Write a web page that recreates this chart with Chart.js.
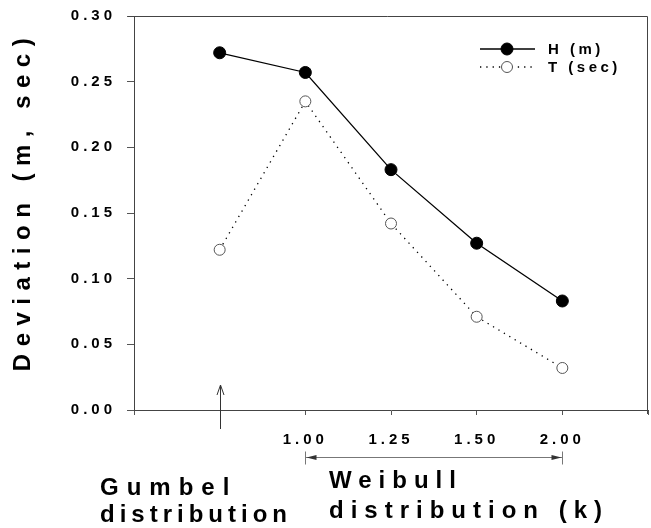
<!DOCTYPE html>
<html>
<head>
<meta charset="utf-8">
<script src="https://cdn.jsdelivr.net/npm/chart.js@4.4.1/dist/chart.umd.min.js"></script>
<style>
  html, body { margin: 0; padding: 0; background: #fff; }
  #wrap { width: 651px; height: 528px; }
</style>
</head>
<body>
<div id="wrap"><canvas id="chart"></canvas></div>
<script>
// values
const categories = ['Gumbel', '1.00', '1.25', '1.50', '2.00'];
const heightDev = [0.272, 0.257, 0.183, 0.127, 0.083];
const periodDev = [0.122, 0.235, 0.142, 0.071, 0.032];
const yTicks = [0, 0.05, 0.10, 0.15, 0.20, 0.25, 0.30];
const seriesNames = ['H (m)', 'T (sec)'];

// one empty slot each side so the points sit inside the frame
const labels = [''].concat(categories, ['']);
const pad = arr => [null].concat(arr, [null]);

const FONT = '"Liberation Sans", Arial, sans-serif';
Chart.defaults.font.family = FONT;
Chart.defaults.font.weight = 'bold';
Chart.defaults.color = '#000';

function spaced(ctx, px) { ctx.letterSpacing = px + 'px'; }

const decor = {
  id: 'decor',
  beforeUpdate(chart) { spaced(chart.ctx, 4); },
  beforeDraw(chart) { spaced(chart.ctx, 4); },
  afterDraw(chart) {
    const { ctx, chartArea: a, scales: { x } } = chart;
    ctx.save();
    ctx.strokeStyle = '#444';
    ctx.lineWidth = 1;

    // top and right of the frame
    ctx.beginPath();
    ctx.moveTo(a.left - 6, a.top + 0.5);
    ctx.lineTo(a.right - 0.5, a.top + 0.5);
    ctx.lineTo(a.right - 0.5, a.bottom + 4);
    ctx.stroke();

    // legend
    chart.data.datasets.forEach((ds, i) => {
      const ly = a.top + 33 + i * 18;
      const lx = a.right - 168;
      ctx.save();
      ctx.strokeStyle = '#000';
      ctx.lineWidth = ds.borderWidth;
      ctx.setLineDash(ds.borderDash || []);
      ctx.beginPath();
      ctx.moveTo(lx, ly);
      ctx.lineTo(lx + 55, ly);
      ctx.stroke();
      ctx.setLineDash([]);
      ctx.beginPath();
      ctx.arc(lx + 27, ly, ds.pointRadius, 0, Math.PI * 2);
      ctx.fillStyle = ds.pointBackgroundColor;
      ctx.fill();
      ctx.lineWidth = 1;
      ctx.strokeStyle = ds.pointBorderColor;
      ctx.stroke();
      ctx.fillStyle = '#000';
      ctx.font = 'bold 15px ' + FONT;
      spaced(ctx, 3.5);
      ctx.textBaseline = 'middle';
      ctx.fillText(ds.label, lx + 68, ly + 1);
      ctx.restore();
    });

    // y axis title
    ctx.save();
    ctx.translate(23, 201);
    ctx.rotate(-Math.PI / 2);
    ctx.font = 'bold 24px ' + FONT;
    spaced(ctx, 7.5);
    ctx.textAlign = 'center';
    ctx.textBaseline = 'middle';
    ctx.fillStyle = '#000';
    ctx.fillText('Deviation (m, sec)', 0, 0);
    ctx.restore();

    // Gumbel arrow
    const gx = Math.round(x.getPixelForValue(1)) + 0.5;
    ctx.strokeStyle = '#333';
    ctx.beginPath();
    ctx.moveTo(gx, a.bottom + 19);
    ctx.lineTo(gx, a.bottom - 25);
    ctx.moveTo(gx - 3.5, a.bottom - 15);
    ctx.lineTo(gx, a.bottom - 25);
    ctx.lineTo(gx + 3.5, a.bottom - 15);
    ctx.stroke();

    // Weibull range arrow
    const w0 = Math.round(x.getPixelForValue(2)) + 0.5;
    const w1 = Math.round(x.getPixelForValue(5)) + 0.5;
    const wy = a.bottom + 47.5;
    ctx.strokeStyle = '#777';
    ctx.beginPath();
    ctx.moveTo(w0, wy - 6); ctx.lineTo(w0, wy + 7);
    ctx.moveTo(w1, wy - 6); ctx.lineTo(w1, wy + 7);
    ctx.moveTo(w0, wy); ctx.lineTo(w1, wy);
    ctx.stroke();
    ctx.fillStyle = '#333';
    ctx.beginPath();
    ctx.moveTo(w0 + 1, wy); ctx.lineTo(w0 + 11, wy - 2.5); ctx.lineTo(w0 + 11, wy + 2.5); ctx.closePath();
    ctx.moveTo(w1 - 1, wy); ctx.lineTo(w1 - 11, wy - 2.5); ctx.lineTo(w1 - 11, wy + 2.5); ctx.closePath();
    ctx.fill();

    // category captions
    ctx.fillStyle = '#000';
    ctx.font = 'bold 24px ' + FONT;
    ctx.textAlign = 'left';
    ctx.textBaseline = 'alphabetic';
    spaced(ctx, 8);
    ctx.fillText('Gumbel', 100, 495);
    spaced(ctx, 5);
    ctx.fillText('distribution', 100, 522);
    spaced(ctx, 7);
    ctx.fillText('Weibull', 329, 488);
    ctx.fillText('distribution (k)', 329, 518);
    ctx.restore();
  }
};

new Chart(document.getElementById('chart'), {
  type: 'line',
  data: {
    labels: labels,
    datasets: [
      {
        label: seriesNames[0],
        data: pad(heightDev),
        borderColor: '#000',
        borderWidth: 1.3,
        pointRadius: 6,
        pointBackgroundColor: '#000',
        pointBorderColor: '#000',
        pointBorderWidth: 1,
        tension: 0
      },
      {
        label: seriesNames[1],
        data: pad(periodDev),
        borderColor: '#000',
        borderWidth: 1.3,
        borderDash: [1.3, 5],
        pointRadius: 5.5,
        pointBackgroundColor: '#fff',
        pointBorderColor: '#555',
        pointBorderWidth: 1,
        tension: 0
      }
    ]
  },
  options: {
    responsive: true,
    maintainAspectRatio: false,
    animation: false,
    layout: { autoPadding: false, padding: { top: 16, right: 3, left: 0, bottom: 0 } },
    plugins: { legend: { display: false }, tooltip: { enabled: false } },
    scales: {
      x: {
        type: 'category',
        offset: false,
        grid: {
          drawOnChartArea: false,
          tickLength: 5,
          tickColor: c => (c.index === 1 ? 'rgba(0,0,0,0)' : '#555')
        },
        border: { color: '#444', width: 1 },
        ticks: {
          autoSkip: false,
          maxRotation: 0,
          padding: 16,
          font: { size: 15, weight: 'bold' },
          callback(v) {
            const s = this.getLabelForValue(v);
            return s === 'Gumbel' ? '' : s;
          }
        },
        afterFit(s) {
          s.height = 118;
          s.paddingLeft = 0;
          s.paddingRight = 0;
        }
      },
      y: {
        min: 0,
        max: 0.3,
        grid: { drawOnChartArea: false, tickLength: 7, tickColor: '#555' },
        border: { color: '#444', width: 1 },
        afterBuildTicks(s) { s.ticks = yTicks.map(v => ({ value: v })); },
        ticks: {
          padding: 11,
          font: { size: 15, weight: 'bold' },
          callback: v => v.toFixed(2)
        },
        afterFit(s) {
          s.width = 134;
          s.paddingTop = 0;
          s.paddingBottom = 0;
        }
      }
    }
  },
  plugins: [decor]
});
</script>
</body>
</html>
